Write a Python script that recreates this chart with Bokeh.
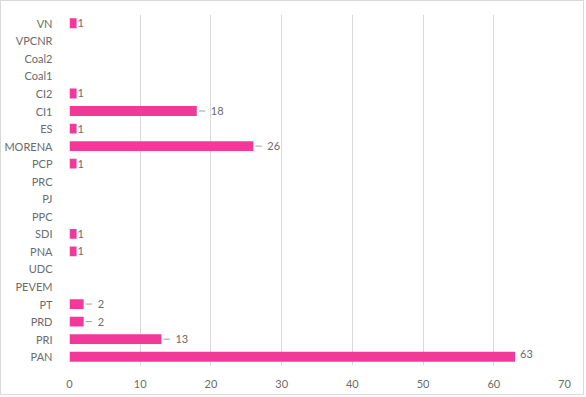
from bokeh.plotting import figure
from bokeh.models import FactorRange, Range1d, ColumnDataSource, FixedTicker
from bokeh.embed import file_html
from bokeh.resources import INLINE
from bokeh.core.properties import value

# Categories listed bottom to top
parties = ["PAN", "PRI", "PRD", "PT", "PEVEM", "UDC", "PNA", "SDI", "PPC", "PJ",
           "PRC", "PCP", "MORENA", "ES", "CI1", "CI2", "Coal1", "Coal2", "VPCNR", "VN"]
seats = [63, 13, 2, 2, 0, 0, 1, 1, 0, 0, 0, 1, 26, 1, 18, 1, 0, 0, 0, 1]
x_ticks = [0, 10, 20, 30, 40, 50, 60, 70]

BAR = "#F2399A"
TXT = "#6b6b6b"
FONT = "Lato"
FS = "11px"

p = figure(width=584, height=395, output_backend="svg", toolbar_location=None,
           y_range=FactorRange(factors=parties), x_range=Range1d(0, 70),
           min_border_left=65, min_border_right=21, min_border_top=13, min_border_bottom=31,
           styles={"border": "1px solid #d9d9d9"})
p.outline_line_color = None
p.background_fill_color = "white"
p.border_fill_color = "white"

p.hbar(y=parties, right=seats, left=0, height=0.56, fill_color=BAR, line_color=None)

# labels
short_y, short_v = [], []
lead_y, lead_v = [], []
big_y, big_v = [], []
mx = max(seats)
for c, v in zip(parties, seats):
    if v == 0:
        continue
    if v == 1:
        short_y.append(c); short_v.append(v)
    elif v == mx:
        big_y.append(c); big_v.append(v)
    else:
        lead_y.append(c); lead_v.append(v)

s1 = ColumnDataSource(dict(y=short_y, x=short_v, t=[str(v) for v in short_v]))
p.text(x="x", y="y", text="t", source=s1, x_offset=1, text_baseline="middle",
       text_align="left", text_font=value(FONT), text_font_size=FS, text_color=TXT)

s2 = ColumnDataSource(dict(y=lead_y, x=lead_v, t=[str(v) for v in lead_v]))
p.text(x="x", y="y", text="t", source=s2, x_offset=14, text_baseline="middle",
       text_align="left", text_font=value(FONT), text_font_size=FS, text_color=TXT)
p.segment(x0=[v + 0.28 for v in lead_v], x1=[v + 1.2 for v in lead_v], y0=lead_y, y1=lead_y,
          line_color="#a0a0a0", line_width=1)

s3 = ColumnDataSource(dict(y=big_y, x=big_v, t=[str(v) for v in big_v]))
p.text(x="x", y="y", text="t", source=s3, x_offset=5, y_offset=-2.5, text_baseline="middle",
       text_align="left", text_font=value(FONT), text_font_size=FS, text_color=TXT)

# axes
p.xaxis.ticker = FixedTicker(ticks=x_ticks)
p.xaxis.axis_line_color = None
p.xaxis.major_tick_line_color = None
p.xaxis.minor_tick_line_color = None
p.xaxis.major_label_standoff = 8
p.xaxis.major_label_text_font = FONT
p.xaxis.major_label_text_font_size = FS
p.xaxis.major_label_text_color = TXT

p.yaxis.axis_line_color = None
p.yaxis.major_tick_line_color = None
p.yaxis.minor_tick_line_color = None
p.yaxis.major_label_standoff = 11
p.yaxis.major_label_text_font = FONT
p.yaxis.major_label_text_font_size = FS
p.yaxis.major_label_text_color = TXT

p.xgrid.grid_line_color = "#d9d9d9"
p.ygrid.grid_line_color = None

open("out.html", "w").write(file_html(p, INLINE))
